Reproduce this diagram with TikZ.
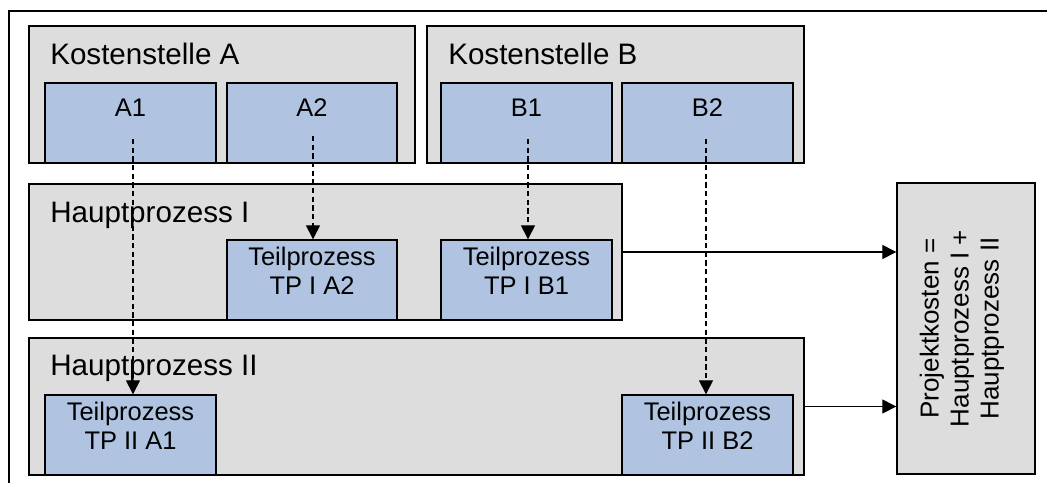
\documentclass[tikz,border=0pt]{standalone}
\usepackage{fontspec}
\setmainfont{Liberation Sans}
\usetikzlibrary{fit,arrows.meta}
\definecolor{boxgray}{RGB}{221,221,221}
\definecolor{boxblue}{RGB}{176,196,226}
\begin{document}
\begin{tikzpicture}[x=0.75pt,y=-0.75pt,
  graybox/.style={draw=black, fill=boxgray, line width=1pt, inner sep=0pt, rectangle},
  bluebox/.style={draw=black, fill=boxblue, line width=1pt, inner sep=0pt, rectangle, align=center, font=\fontsize{19.1pt}{21.75pt}\selectfont},
  biglabel/.style={anchor=base west, inner sep=0pt, font=\fontsize{22.2pt}{26pt}\selectfont},
  smalllabel/.style={anchor=base, inner sep=0pt, font=\fontsize{19.1pt}{21.75pt}\selectfont},
  dasharrow/.style={-{Triangle[length=10.5pt,width=10.5pt]}, line width=0.9pt, dash pattern=on 4pt off 2.5pt},
  solidarrow/.style={-{Triangle[length=10.5pt,width=10.5pt]}, line width=0.9pt},
]
\useasboundingbox (0,0) rectangle (1047,483);
% outer frame (partly visible)
\draw[line width=1.5pt] (1047,11) -| (9,483);

% Kostenstellen
\node[graybox, fit={(29,26) (415,163)}] (KA) {};
\node[graybox, fit={(427,26) (804,163)}] (KB) {};
\node[biglabel] (KAl) at (50,64) {Kostenstelle A};
\node[biglabel] (KBl) at (448,64) {Kostenstelle B};
\node[bluebox, fit={(45,83) (216,163)}] (A1) {};
\node[bluebox, fit={(227,83) (397,163)}] (A2) {};
\node[bluebox, fit={(441,83) (612,163)}] (B1) {};
\node[bluebox, fit={(622,83) (793,163)}] (B2) {};
\node[smalllabel] (A1l) at (130.5,116) {A1};
\node[smalllabel] (A2l) at (312,116) {A2};
\node[smalllabel] (B1l) at (526.5,116) {B1};
\node[smalllabel] (B2l) at (707.5,116) {B2};

% Hauptprozesse
\node[graybox, fit={(29,184) (622,320)}] (HP1) {};
\node[graybox, fit={(29,338) (804,475)}] (HP2) {};
\node[biglabel] (HP1l) at (50,222) {Hauptprozess I};
\node[biglabel] (HP2l) at (50,375) {Hauptprozess II};
\node[bluebox, fit={(227,240) (397,320)}] (TPIA2) {Teilprozess\\TP I A2};
\node[bluebox, fit={(441,240) (612,320)}] (TPIB1) {Teilprozess\\TP I B1};
\node[bluebox, fit={(45,395) (216,475)}] (TPIIA1) {Teilprozess\\TP II A1};
\node[bluebox, fit={(622,395) (793,475)}] (TPIIB2) {Teilprozess\\TP II B2};

% Projektkosten
\node[graybox, fit={(897,183) (1035,474)}] (PK) {};
\node[rotate=90, align=center, inner sep=0pt, font=\fontsize{19.5pt}{22.5pt}\selectfont] (PKl) at ([xshift=-3pt]PK.center) {Projektkosten =\\Hauptprozess I +\\Hauptprozess II};

% dashed arrows
\coordinate (a1s) at (133,139);
\coordinate (a2s) at (313,136);
\coordinate (b1s) at (528,139);
\coordinate (b2s) at (706,139);
\draw[dasharrow] (a1s) -- (a1s |- TPIIA1.north);
\draw[dasharrow] (a2s) -- (a2s |- TPIA2.north);
\draw[dasharrow] (b1s) -- (b1s |- TPIB1.north);
\draw[dasharrow] (b2s) -- (b2s |- TPIIB2.north);

% solid arrows
\draw[solidarrow] (HP1.east) -- (HP1.east -| PK.west);
\draw[solidarrow] (HP2.east) -- (HP2.east -| PK.west);
\end{tikzpicture}
\end{document}
